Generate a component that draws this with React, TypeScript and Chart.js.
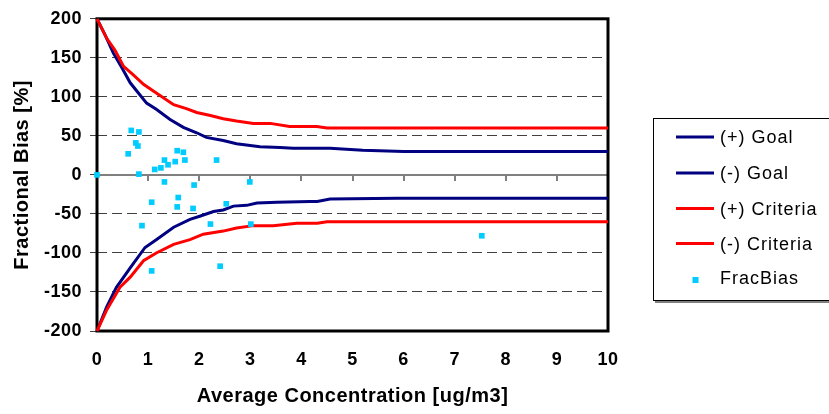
import React, { useEffect, useRef } from 'react';
import { Chart, registerables } from 'chart.js';

Chart.register(...registerables);

// ---- Data ----
const goalPlusX = [0, 0.16, 0.32, 0.49, 0.65, 0.81, 0.97, 1.16, 1.43, 1.69, 1.95, 2.14, 2.47, 2.73, 3.19, 3.58, 3.84, 4.56, 5.2, 6.0, 10];
const goalPlusY = [200, 179, 156, 137, 118, 105, 92, 84, 71, 61, 54, 48, 44, 40, 36, 35, 34, 34, 31.5, 30, 30];

const goalMinusX = [0, 0.19, 0.38, 0.65, 0.94, 1.16, 1.5, 1.82, 2.01, 2.28, 2.47, 2.67, 2.93, 3.13, 3.52, 4.17, 4.31, 4.56, 5.87, 10];
const goalMinusY = [-200, -169, -144, -119, -93, -83, -67, -57, -53, -47, -45, -40, -39, -36, -35, -34, -34, -31, -30, -30];

const critPlusX = [0, 0.19, 0.35, 0.52, 0.71, 0.91, 1.16, 1.5, 1.75, 1.95, 2.22, 2.47, 2.73, 3.06, 3.39, 3.77, 4.3, 4.5, 10];
const critPlusY = [200, 175, 160, 139, 128, 116, 105, 90, 85, 80, 76, 72, 69, 66, 66, 62, 62, 60, 60];

const critMinusX = [0, 0.19, 0.45, 0.65, 0.91, 1.16, 1.5, 1.82, 2.08, 2.47, 2.73, 3.06, 3.45, 3.91, 4.31, 4.5, 10];
const critMinusY = [-200, -173, -144, -131, -110, -100, -89, -83, -76, -72, -68, -65, -65, -62, -62, -60, -60];

const fracBiasX = [0, 0.67, 0.82, 0.76, 0.8, 0.61, 0.82, 1.57, 1.69, 1.32, 1.72, 1.53, 1.39, 1.25, 1.13, 2.34, 1.32, 1.9, 2.99, 1.07, 1.59, 1.57, 1.88, 2.53, 0.88, 2.22, 3.01, 1.07, 2.41, 7.53];
const fracBiasY = [0, 57, 55, 41, 37, 27, 1, 31, 29, 19, 19, 17, 13, 9, 7, 19, -9, -13, -9, -35, -29, -41, -43, -37, -65, -63, -63, -123, -117, -78];

const seriesLabels = ['(+) Goal', '(-) Goal', '(+) Criteria', '(-) Criteria', 'FracBias'];
const xMin = 0;
const xMax = 10;
const xStep = 1;
const yMin = -200;
const yMax = 200;
const yStep = 50;

const NAVY = '#000080';
const RED = '#ff0000';
const CYAN = '#00ccff';
const FONT = '"Liberation Sans", Arial, Helvetica, sans-serif';

function pts(xs: number[], ys: number[]) {
  return xs.map((x, i) => ({ x, y: ys[i] }));
}

const framePlugin = {
  id: 'framePlugin',
  beforeDraw(chart: any) {
    chart.ctx.letterSpacing = '0.5px';
  },
  beforeDatasetsDraw(chart: any) {
    const { ctx, chartArea: a, scales } = chart;
    const xs = scales.x;
    const ys = scales.y;
    ctx.save();
    const y0 = ys.getPixelForValue(0);
    ctx.strokeStyle = '#808080';
    ctx.lineWidth = 2;
    ctx.beginPath();
    ctx.moveTo(a.left, y0);
    ctx.lineTo(a.right, y0);
    for (let v = xMin + xStep; v < xMax; v += xStep) {
      const px = Math.round(xs.getPixelForValue(v));
      ctx.moveTo(px, y0);
      ctx.lineTo(px, y0 + 6);
    }
    ctx.stroke();
    ctx.strokeStyle = '#000';
    ctx.lineWidth = 3;
    ctx.strokeRect(a.left, a.top, a.right - a.left, a.bottom - a.top);
    ctx.restore();
  },
  afterDraw(chart: any) {
    const { ctx } = chart;
    const rows = [137, 173, 208.5, 243.5, 278];
    ctx.save();
    ctx.fillStyle = '#808080';
    ctx.fillRect(655, 120, 200, 183);
    ctx.fillStyle = '#ffffff';
    ctx.fillRect(653, 118, 200, 183);
    ctx.strokeStyle = '#000';
    ctx.lineWidth = 1;
    ctx.strokeRect(653.5, 118.5, 200, 182);
    ctx.font = '18px ' + FONT;
    ctx.letterSpacing = '1px';
    ctx.textAlign = 'left';
    ctx.textBaseline = 'alphabetic';
    chart.data.datasets.forEach((ds: any, i: number) => {
      const cy = rows[i];
      if (ds.showLine !== false) {
        ctx.strokeStyle = ds.borderColor;
        ctx.lineWidth = 3;
        ctx.beginPath();
        ctx.moveTo(676, cy);
        ctx.lineTo(714, cy);
        ctx.stroke();
      } else {
        ctx.fillStyle = ds.backgroundColor;
        ctx.fillRect(692.5, cy - 1, 6, 6);
      }
      ctx.fillStyle = '#000';
      ctx.fillText(ds.label, 720, cy + 6.4);
    });
    ctx.restore();
  },
};

export default function App() {
  const ref = useRef<HTMLCanvasElement | null>(null);

  useEffect(() => {
    if (!ref.current) return;
    const lineDs = (label: string, data: any[], color: string, order: number) => ({
      type: 'line' as const,
      label,
      data,
      borderColor: color,
      backgroundColor: color,
      borderWidth: 3,
      pointRadius: 0,
      tension: 0,
      fill: false,
      clip: false as any,
      order,
    });
    const chart = new Chart(ref.current, {
      type: 'scatter',
      data: {
        datasets: [
          lineDs(seriesLabels[0], pts(goalPlusX, goalPlusY), NAVY, 3),
          lineDs(seriesLabels[1], pts(goalMinusX, goalMinusY), NAVY, 3),
          lineDs(seriesLabels[2], pts(critPlusX, critPlusY), RED, 2),
          lineDs(seriesLabels[3], pts(critMinusX, critMinusY), RED, 2),
          {
            type: 'scatter' as const,
            label: seriesLabels[4],
            data: pts(fracBiasX, fracBiasY),
            showLine: false,
            pointStyle: 'rect',
            pointRadius: 4,
            pointBorderWidth: 0,
            borderWidth: 0,
            backgroundColor: CYAN,
            borderColor: CYAN,
            clip: false as any,
            order: 0,
          },
        ] as any,
      },
      options: {
        responsive: false,
        animation: false,
        devicePixelRatio: 1,
        layout: { padding: { top: 15, right: 221, left: 0, bottom: 0 } },
        plugins: { legend: { display: false }, tooltip: { enabled: false } },
        scales: {
          x: {
            type: 'linear',
            min: xMin,
            max: xMax,
            afterFit: (s: any) => { s.height = 83; },
            grid: { display: false, drawTicks: false },
            border: { display: false },
            ticks: {
              stepSize: xStep,
              padding: 18.7,
              color: '#000',
              font: { family: FONT, size: 18, weight: 'bold' },
            },
            title: {
              display: true,
              text: 'Average Concentration [ug/m3]',
              color: '#000',
              font: { family: FONT, size: 20, weight: 'bold' },
              padding: { top: 0, bottom: 5.5 },
            },
          },
          y: {
            type: 'linear',
            min: yMin,
            max: yMax,
            afterFit: (s: any) => { s.width = 97; },
            grid: {
              color: (c: any) => {
                const v = c.tick ? c.tick.value : 0;
                return v === 0 || Math.abs(v) === 200 ? 'rgba(0,0,0,0)' : '#404040';
              },
              lineWidth: 1,
              tickLength: 7,
              tickColor: '#404040',
              tickWidth: 1,
            },
            border: { display: false, dash: [10, 5] },
            ticks: {
              stepSize: yStep,
              padding: 8,
              color: '#000',
              font: { family: FONT, size: 18, weight: 'bold' },
            },
            title: {
              display: true,
              text: 'Fractional Bias [%]',
              color: '#000',
              font: { family: FONT, size: 20, weight: 'bold' },
              padding: { top: 10.6, bottom: 0 },
            },
          },
        },
      } as any,
      plugins: [framePlugin],
    });
    return () => chart.destroy();
  }, []);

  return (
    <div style={{ position: 'absolute', left: 0, top: 0, width: 829, height: 414, background: '#fff' }}>
      <canvas ref={ref} width={829} height={414} style={{ width: '829px', height: '414px', display: 'block' }} />
    </div>
  );
}
